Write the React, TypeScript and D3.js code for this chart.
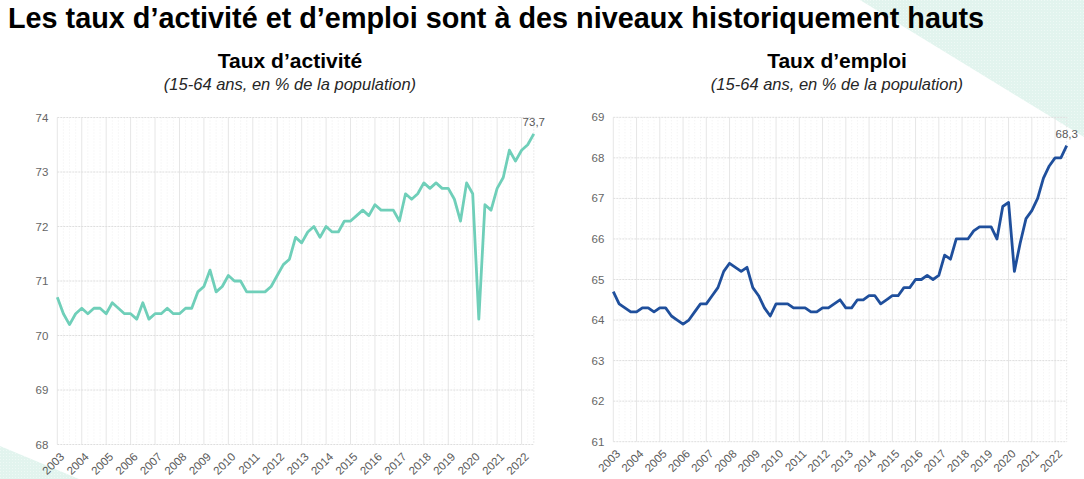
import React from "react";
import * as d3 from "d3";

const W = 1084;
const H = 479;

const years = ["2003","2004","2005","2006","2007","2008","2009","2010","2011","2012","2013","2014","2015","2016","2017","2018","2019","2020","2021","2022"];

// Quarterly, 2003T1 -> 2022T3
const activite = [
  70.7, 70.4, 70.2, 70.4, 70.5, 70.4, 70.5, 70.5, 70.4, 70.6,
  70.5, 70.4, 70.4, 70.3, 70.6, 70.3, 70.4, 70.4, 70.5, 70.4,
  70.4, 70.5, 70.5, 70.8, 70.9, 71.2, 70.8, 70.9, 71.1, 71.0,
  71.0, 70.8, 70.8, 70.8, 70.8, 70.9, 71.1, 71.3, 71.4, 71.8,
  71.7, 71.9, 72.0, 71.8, 72.0, 71.9, 71.9, 72.1, 72.1, 72.2,
  72.3, 72.2, 72.4, 72.3, 72.3, 72.3, 72.1, 72.6, 72.5, 72.6,
  72.8, 72.7, 72.8, 72.7, 72.7, 72.5, 72.1, 72.8, 72.6, 70.3,
  72.4, 72.3, 72.7, 72.9, 73.4, 73.2, 73.4, 73.5, 73.7,
];

const emploi = [
  64.7, 64.4, 64.3, 64.2, 64.2, 64.3, 64.3, 64.2, 64.3, 64.3,
  64.1, 64.0, 63.9, 64.0, 64.2, 64.4, 64.4, 64.6, 64.8, 65.2,
  65.4, 65.3, 65.2, 65.3, 64.8, 64.6, 64.3, 64.1, 64.4, 64.4,
  64.4, 64.3, 64.3, 64.3, 64.2, 64.2, 64.3, 64.3, 64.4, 64.5,
  64.3, 64.3, 64.5, 64.5, 64.6, 64.6, 64.4, 64.5, 64.6, 64.6,
  64.8, 64.8, 65.0, 65.0, 65.1, 65.0, 65.1, 65.6, 65.5, 66.0,
  66.0, 66.0, 66.2, 66.3, 66.3, 66.3, 66.0, 66.8, 66.9, 65.2,
  65.9, 66.5, 66.7, 67.0, 67.5, 67.8, 68.0, 68.0, 68.3,
];

const activiteTicks = [68, 69, 70, 71, 72, 73, 74];
const emploiTicks = [61, 62, 63, 64, 65, 66, 67, 68, 69];

const FONT = "'Liberation Sans', Arial, sans-serif";

type PanelProps = {
  values: number[];
  ticks: number[];
  color: string;
  x0: number;
  x1: number;
  yTop: number;
  yBottom: number;
  title: string;
  titleX: number;
  lastLabel: string;
};

function Panel({ values, ticks, color, x0, x1, yTop, yBottom, title, titleX, lastLabel }: PanelProps) {
  const n = values.length;
  const x = d3.scaleLinear().domain([0, n - 1]).range([x0, x1]);
  const y = d3
    .scaleLinear()
    .domain([d3.min(ticks)!, d3.max(ticks)!])
    .range([yBottom, yTop]);
  const line = d3
    .line<number>()
    .x((_, i) => x(i))
    .y((d) => y(d));
  const quarterIdx = d3.range(n);
  const last = values[n - 1];
  return (
    <g>
      <text x={titleX} y={68} textAnchor="middle" fontFamily={FONT} fontWeight="bold" fontSize={21} fill="#000">
        {title}
      </text>
      <text x={titleX} y={90} textAnchor="middle" fontFamily={FONT} fontStyle="italic" fontSize={16.5} fill="#262626">
        (15-64 ans, en % de la population)
      </text>
      {quarterIdx
        .filter((i) => i % 4 !== 0)
        .map((i) => (
          <line key={"q" + i} x1={x(i)} x2={x(i)} y1={yTop} y2={yBottom} stroke="#ececec" strokeWidth={0.8} strokeDasharray="1,2" />
        ))}
      {years.map((yr, k) => (
        <line key={"v" + yr} x1={x(k * 4)} x2={x(k * 4)} y1={yTop} y2={yBottom} stroke="#e6e6e6" strokeWidth={1} />
      ))}
      <line x1={x(n - 1)} x2={x(n - 1)} y1={yTop} y2={yBottom} stroke="#e2e2e2" strokeWidth={1} strokeDasharray="1,2" />
      {ticks.map((t) => (
        <line key={"h" + t} x1={x0} x2={x1} y1={y(t)} y2={y(t)} stroke="#dedede" strokeWidth={1} strokeDasharray="2,1" />
      ))}
      {ticks.map((t) => (
        <text key={"yl" + t} x={x0 - 9} y={y(t)} dy="0.35em" textAnchor="end" fontFamily={FONT} fontSize={11.5} fill="#666">
          {t}
        </text>
      ))}
      {years.map((yr, k) => (
        <text
          key={"xl" + yr}
          transform={`translate(${x(k * 4) + 5},${yBottom + 10}) rotate(-45)`}
          textAnchor="end"
          dy="0.35em"
          fontFamily={FONT}
          fontSize={11.5}
          fill="#595959"
        >
          {yr}
        </text>
      ))}
      <path d={line(values) || ""} fill="none" stroke={color} strokeWidth={2.8} strokeLinejoin="round" />
      <text x={x(n - 1)} y={y(last) - 8} textAnchor="middle" fontFamily={FONT} fontSize={11.5} fill="#595959">
        {lastLabel}
      </text>
    </g>
  );
}

export default function App() {
  return (
    <div style={{ position: "absolute", left: 0, top: 0 }}>
      <svg width={W} height={H} viewBox={`0 0 ${W} ${H}`} style={{ display: "block", background: "#fff" }}>
        <defs>
          <pattern id="mint" width="3" height="3" patternUnits="userSpaceOnUse">
            <rect width="3" height="3" fill="#e2f4ee" />
            <rect width="1" height="1" fill="#eef9f5" />
          </pattern>
        </defs>
        <polygon points={`860,0 ${W},0 ${W},137`} fill="url(#mint)" />
        <polygon points={`0,446 0,${H} 79,${H}`} fill="url(#mint)" />
        <text x={8} y={28} fontFamily={FONT} fontWeight="bold" fontSize={28.8} fill="#000">
          Les taux d’activité et d’emploi sont à des niveaux historiquement hauts
        </text>
        <Panel
          values={activite}
          ticks={activiteTicks}
          color="#6fcfb9"
          x0={57.3}
          x1={533.8}
          yTop={117.5}
          yBottom={444.5}
          title="Taux d’activité"
          titleX={290}
          lastLabel="73,7"
        />
        <Panel
          values={emploi}
          ticks={emploiTicks}
          color="#1f4f9c"
          x0={613.3}
          x1={1066.7}
          yTop={117.3}
          yBottom={441.7}
          title="Taux d’emploi"
          titleX={837}
          lastLabel="68,3"
        />
      </svg>
    </div>
  );
}
